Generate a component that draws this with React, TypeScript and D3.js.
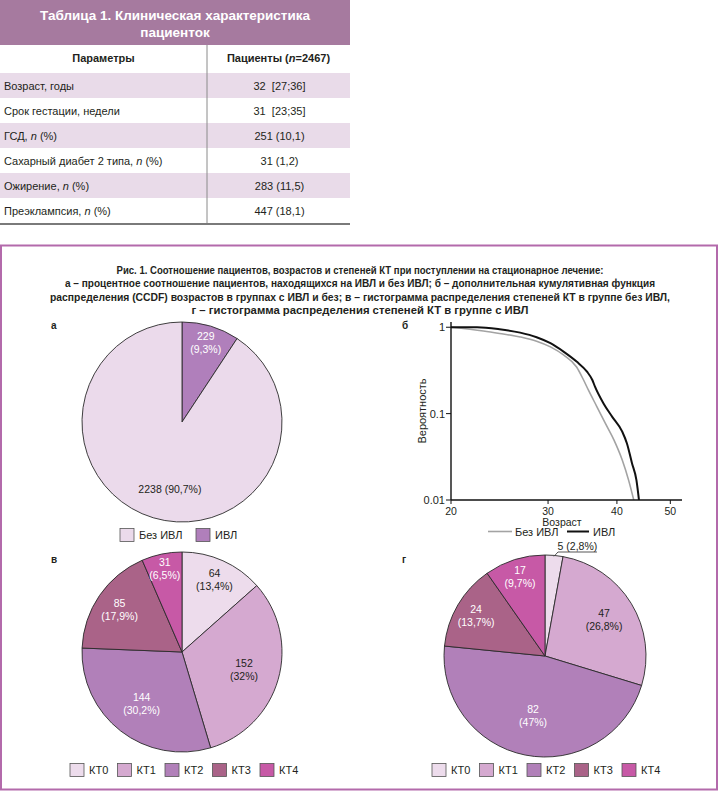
import * as d3 from 'd3';

// ---- table data ----
const tableTitle = ['Таблица 1. Клиническая характеристика', 'пациенток'];
const tableHead = ['Параметры', 'Пациенты (|n|=2467)'];
const paramNames = [
  'Возраст, годы',
  'Срок гестации, недели',
  'ГСД, |n| (%)',
  'Сахарный диабет 2 типа, |n| (%)',
  'Ожирение, |n| (%)',
  'Преэклампсия, |n| (%)',
];
const paramValues = ['32\u00a0 [27;36]', '31\u00a0 [23;35]', '251 (10,1)', '31 (1,2)', '283 (11,5)', '447 (18,1)'];

// ---- figure caption ----
const captionLines = [
  'Рис. 1. Соотношение пациентов, возрастов и степеней КТ при поступлении на стационарное лечение:',
  'а – процентное соотношение пациентов, находящихся на ИВЛ и без ИВЛ; б – дополнительная кумулятивная функция',
  'распределения (CCDF) возрастов в группах с ИВЛ и без; в – гистограмма распределения степеней КТ в группе без ИВЛ,',
  'г – гистограмма распределения степеней КТ в группе с ИВЛ',
];
const captionWidths = [487, 590, 620, 337];

// ---- pie а ----
const ventCats = ['ИВЛ', 'Без ИВЛ'];
const ventCounts = [229, 2238];
const ventPct = ['9,3%', '90,7%'];
const ventLegend = ['Без ИВЛ', 'ИВЛ'];

// ---- pies в, г ----
const ktCats = ['КТ0', 'КТ1', 'КТ2', 'КТ3', 'КТ4'];
const ktNoVent = [64, 152, 144, 85, 31];
const ktNoVentPct = ['13,4%', '32%', '30,2%', '17,9%', '6,5%'];
const ktVent = [5, 47, 82, 24, 17];
const ktVentPct = ['2,8%', '26,8%', '47%', '13,7%', '9,7%'];

// ---- CCDF б ----
const ageNoVent = [20, 22.9, 24.5, 26.7, 28.6, 30.3, 32.0, 33.8, 34.8, 35.5, 36.8, 38.1, 39.5, 40.9, 42.0, 43.0];
const probNoVent = [1.0, 0.906, 0.848, 0.772, 0.689, 0.592, 0.478, 0.347, 0.245, 0.188, 0.12, 0.0774, 0.0496, 0.029, 0.017, 0.0095];
const ageVent = [20, 22.3, 24.5, 26.7, 28.6, 30.3, 32.0, 33.8, 35.3, 36.1, 36.5, 37.8, 39.2, 40.9, 41.7, 42.6, 43.4, 43.9];
const probVent = [1.0, 1.0, 0.948, 0.866, 0.766, 0.653, 0.522, 0.40, 0.306, 0.245, 0.205, 0.132, 0.0923, 0.0619, 0.0454, 0.0267, 0.017, 0.0095];
const xTicks = [20, 30, 40, 50];
const yTicks = [1, 0.1, 0.01];
const yTickLabels = ['1', '0.1', '0.01'];
const ccdfLegend = ['Без ИВЛ', 'ИВЛ'];

const FONT = "'Liberation Sans', Arial, sans-serif";
const INK = '#231f20';
const ventColors = ['#b07fbb', '#ebdaeb'];
const ventInk = ['#ffffff', INK];
const ktColors = ['#eddcec', '#d5a9d0', '#b180b9', '#aa6388', '#c759a6'];
const ktInk = [INK, INK, '#ffffff', '#ffffff', '#ffffff'];

function withItalicN(s: string) {
  const parts = s.split('|n|');
  return parts.map((p, i) => (
    <tspan key={i}>
      {p}
      {i < parts.length - 1 && <tspan fontStyle="italic">n</tspan>}
    </tspan>
  ));
}

function Table() {
  const x0 = 0, x1 = 207, x2 = 350;
  const headTop = 45, rowTop = 73, rowH = 25;
  const rows = d3.range(paramNames.length);
  return (
    <g fontFamily={FONT} fill={INK}>
      <rect x={x0} y={0} width={x2 - x0} height={headTop} fill="#a67a9f" />
      {tableTitle.map((t, i) => (
        <text key={i} x={(x0 + x2) / 2} y={20 + i * 17} textAnchor="middle" fontSize={13.5} fontWeight="bold" fill="#fff">{t}</text>
      ))}
      {rows.map(i => (
        <rect key={i} x={x0} y={rowTop + i * rowH} width={x2 - x0} height={rowH} fill={i % 2 === 0 ? '#e9dbe9' : '#ffffff'} />
      ))}
      <text x={(x0 + x1) / 2} y={62} textAnchor="middle" fontSize={11} fontWeight="bold">{tableHead[0]}</text>
      <text x={(x1 + x2) / 2} y={62} textAnchor="middle" fontSize={11} fontWeight="bold">{withItalicN(tableHead[1])}</text>
      {rows.map(i => (
        <g key={i}>
          <text x={4} y={rowTop + i * rowH + 16.5} fontSize={11}>{withItalicN(paramNames[i])}</text>
          <text x={(x1 + x2) / 2 + 1} y={rowTop + i * rowH + 16.5} fontSize={11} textAnchor="middle">{paramValues[i]}</text>
        </g>
      ))}
      <line x1={x1} x2={x1} y1={headTop} y2={rowTop + rows.length * rowH} stroke="#8a8a8a" strokeWidth={1} />
      <line x1={x0} x2={x2} y1={rowTop + rows.length * rowH + 1} y2={rowTop + rows.length * rowH + 1} stroke="#7a7a7a" strokeWidth={2} />
    </g>
  );
}

interface PieProps {
  cx: number; cy: number; r: number;
  values: number[]; pcts: string[]; colors: string[]; inks: string[];
}

function Pie({ cx, cy, r, values, pcts, colors, inks }: PieProps) {
  const arcs = d3.pie<number>().sort(null).value(d => d)(values);
  const arc = d3.arc<d3.PieArcDatum<number>>().innerRadius(0).outerRadius(r);
  const total = d3.sum(values);
  return (
    <g transform={`translate(${cx},${cy})`} fontFamily={FONT} fontSize={10.5}>
      {arcs.map((a, i) => (
        <path key={i} d={arc(a) || ''} fill={colors[i]} stroke="#2a2a2a" strokeWidth={0.9} strokeLinejoin="round" />
      ))}
      {arcs.map((a, i) => {
        const share = (values[i] / total) * 100;
        const mid = (a.startAngle + a.endAngle) / 2;
        if (share < 5) {
          // small slice: label outside with a leader and underline
          const sx = Math.sin(mid) * (r - 1), sy = -Math.cos(mid) * (r - 1);
          const ex = sx + 4, ey = -r - 3;
          return (
            <g key={i}>
              <polyline points={`${sx},${sy} ${ex},${ey} ${ex + 39},${ey}`} fill="none" stroke="#444" strokeWidth={0.9} />
              <text x={ex + 19.5} y={ey - 2.5} textAnchor="middle" fill={INK}>{`${values[i]} (${pcts[i]})`}</text>
            </g>
          );
        }
        if (share > 50) {
          const lr = r * 0.7;
          return (
            <text key={i} x={Math.sin(mid) * lr + 8} y={-Math.cos(mid) * lr + 4} textAnchor="middle" fill={inks[i]}>
              {`${values[i]} (${pcts[i]})`}
            </text>
          );
        }
        const lr = r * Math.max(0.6, 0.9 - share * 0.008);
        const lx = Math.sin(mid) * lr, ly = -Math.cos(mid) * lr;
        return (
          <g key={i} fill={inks[i]} textAnchor="middle">
            <text x={lx} y={ly - 2.5}>{values[i]}</text>
            <text x={lx} y={ly + 10.5}>{`(${pcts[i]})`}</text>
          </g>
        );
      })}
    </g>
  );
}

function Legend({ x, y, step, labels, colors }: { x: number; y: number; step: number; labels: string[]; colors: string[] }) {
  return (
    <g fontFamily={FONT} fontSize={11} fill={INK}>
      {labels.map((l, i) => (
        <g key={i} transform={`translate(${x + i * step},${y})`}>
          <rect x={0} y={-6.5} width={14} height={13} fill={colors[i]} stroke="#555" strokeWidth={0.8} />
          <text x={19} y={4}>{l}</text>
        </g>
      ))}
    </g>
  );
}

function Ccdf() {
  const left = 451, right = 682, top = 322, bottom = 500;
  const xs = d3.scaleLog().domain([20, 52.5]).range([left, right]);
  const ys = d3.scaleLog().domain([0.01, 1.15]).range([bottom, top]);
  const line = d3.line<[number, number]>()
    .x(d => xs(d[0]))
    .y(d => ys(d[1]))
    .curve(d3.curveMonotoneX);
  const grey = ageNoVent.map((a, i) => [a, probNoVent[i]] as [number, number]);
  const black = ageVent.map((a, i) => [a, probVent[i]] as [number, number]);
  return (
    <g fontFamily={FONT} fontSize={11} fill={INK}>
      <defs>
        <clipPath id="ccdfClip">
          <rect x={left} y={top - 10} width={right - left} height={bottom - top + 10} />
        </clipPath>
      </defs>
      <g clipPath="url(#ccdfClip)">
        <path d={line(grey) || ''} fill="none" stroke="#a3a3a3" strokeWidth={1.6} />
        <path d={line(black) || ''} fill="none" stroke="#111" strokeWidth={2} />
      </g>
      <line x1={left} x2={left} y1={top} y2={bottom} stroke="#111" strokeWidth={1.4} />
      <line x1={left} x2={right} y1={bottom} y2={bottom} stroke="#111" strokeWidth={1.4} />
      {yTicks.map((t, i) => (
        <g key={t}>
          <line x1={left - 5} x2={left} y1={ys(t)} y2={ys(t)} stroke="#111" strokeWidth={1} />
          <text x={left - 6} y={ys(t) + 4} textAnchor="end">{yTickLabels[i]}</text>
        </g>
      ))}
      {xTicks.map(t => (
        <g key={t}>
          <line x1={xs(t)} x2={xs(t)} y1={bottom} y2={bottom + 4} stroke="#111" strokeWidth={1} />
          <text x={xs(t)} y={bottom + 14.5} textAnchor="middle" fontSize={10.5}>{t}</text>
        </g>
      ))}
      <text transform={`translate(426,411) rotate(-90)`} textAnchor="middle">Вероятность</text>
      <text x={562} y={526} textAnchor="middle" fontSize={10.5}>Возраст</text>
      <line x1={488} x2={512} y1={531.5} y2={531.5} stroke="#a3a3a3" strokeWidth={1.6} />
      <text x={515} y={535.5}>{ccdfLegend[0]}</text>
      <line x1={567} x2={589} y1={531.5} y2={531.5} stroke="#111" strokeWidth={2} />
      <text x={593} y={535.5}>{ccdfLegend[1]}</text>
    </g>
  );
}

export default function App() {
  const ventLegendColors = ventLegend.map(l => ventColors[ventCats.indexOf(l)]);
  return (
    <svg width={720} height={795} style={{ position: 'absolute', left: 0, top: 0, background: '#fff' }}>
      <rect width={720} height={795} fill="#fff" />
      <Table />
      <rect x={1} y={245.5} width={716} height={544} fill="none" stroke="#b36aab" strokeWidth={2} />
      <g fontFamily={FONT} fontSize={11} fontWeight="bold" fill={INK} textAnchor="middle">
        {captionLines.map((l, i) => (
          <text key={i} x={360} y={274 + i * 13.4} textLength={captionWidths[i]} lengthAdjust="spacingAndGlyphs">{l}</text>
        ))}
      </g>
      <g fontFamily={FONT} fontSize={10} fontWeight="bold" fill={INK}>
        <text x={51} y={329}>а</text>
        <text x={402} y={329}>б</text>
        <text x={51} y={563}>в</text>
        <text x={402} y={563}>г</text>
      </g>
      <Pie cx={182} cy={422} r={100} values={ventCounts} pcts={ventPct} colors={ventColors} inks={ventInk} />
      <Legend x={120} y={535} step={76} labels={ventLegend} colors={ventLegendColors} />
      <Ccdf />
      <Pie cx={182} cy={652} r={100} values={ktNoVent} pcts={ktNoVentPct} colors={ktColors} inks={ktInk} />
      <Legend x={70} y={770} step={47.5} labels={ktCats} colors={ktColors} />
      <Pie cx={545} cy={656} r={101} values={ktVent} pcts={ktVentPct} colors={ktColors} inks={ktInk} />
      <Legend x={432} y={770} step={47.5} labels={ktCats} colors={ktColors} />
    </svg>
  );
}
